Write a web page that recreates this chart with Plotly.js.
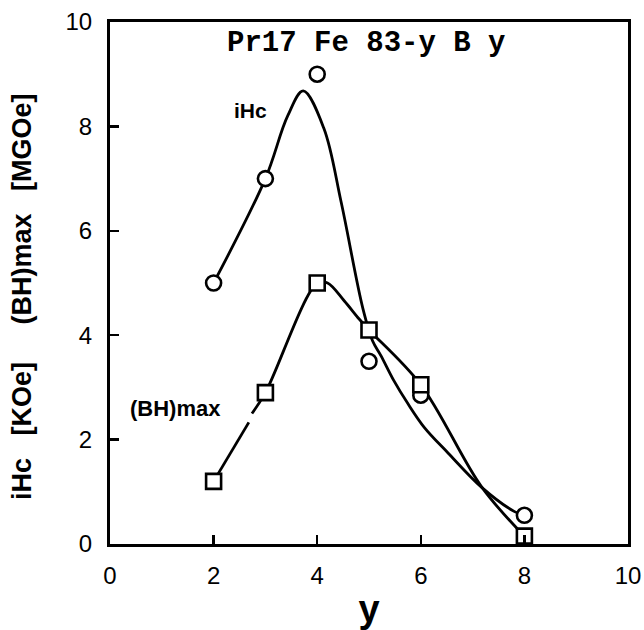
<!DOCTYPE html>
<html>
<head>
<meta charset="utf-8">
<script src="https://cdn.plot.ly/plotly-3.0.1.min.js"></script>
<style>html,body{margin:0;padding:0;background:#fff;}#chart{width:644px;height:630px;}</style>
</head>
<body>
<div id="chart"></div>
<script>
// measured points
const yVals = [2, 3, 4, 5, 6, 8];
const iHc = [5.0, 7.0, 9.0, 3.5, 2.85, 0.55];
const bhMax = [1.2, 2.9, 5.0, 4.1, 3.05, 0.15];

// hand-drawn fit curves
const iHcCurveX = [2, 3, 3.43, 3.73, 4.13, 4.46, 4.88, 5.07, 5.23, 5.48, 5.75, 6.07, 6.53, 7.17, 7.81, 8.0];
const iHcCurveY = [5, 7, 8.2, 8.68, 7.96, 6.56, 4.52, 3.89, 3.61, 3.13, 2.69, 2.23, 1.74, 1.09, 0.62, 0.55];
const bhCurveX = [2, 2.68, null, 2.74, 3, 4, 4.2, 4.52, 4.81, 5, 6, 7.17, 8];
const bhCurveY = [1.2, 2.33, null, 2.5, 2.9, 5.0, 5.0, 4.66, 4.31, 4.1, 3.05, 1.1, 0.15];

const xTicks = [0, 2, 4, 6, 8, 10];
const yTicks = [0, 2, 4, 6, 8, 10];

const lineStyle = {color: '#000', width: 2.8, shape: 'spline', smoothing: 1};

const traces = [
  {x: iHcCurveX, y: iHcCurveY, mode: 'lines', line: lineStyle, hoverinfo: 'skip', showlegend: false},
  {x: bhCurveX, y: bhCurveY, mode: 'lines', line: lineStyle, connectgaps: false, hoverinfo: 'skip', showlegend: false},
  {x: yVals, y: iHc, mode: 'markers', name: 'iHc',
   marker: {symbol: 'circle', size: 15, color: '#fff', line: {color: '#000', width: 2.6}}, showlegend: false},
  {x: yVals, y: bhMax, mode: 'markers', name: '(BH)max',
   marker: {symbol: 'square', size: 15, color: '#fff', line: {color: '#000', width: 2.6}}, showlegend: false}
];

const sans = 'Liberation Sans, Arial, sans-serif';
const tickFont = {family: sans, size: 24, color: '#000'};

const layout = {
  width: 644, height: 630,
  margin: {l: 110, r: 16, t: 22, b: 86},
  paper_bgcolor: '#fff', plot_bgcolor: '#fff',
  xaxis: {
    range: [0, 10], tickvals: xTicks, ticktext: xTicks.map(String),
    ticks: 'inside', ticklen: 9, tickwidth: 2.5, tickcolor: '#000',
    showline: true, linewidth: 3, linecolor: '#000', mirror: true,
    showgrid: false, zeroline: false, tickfont: tickFont, ticklabelstandoff: 8,
    title: {text: '<b>y</b>', font: {family: sans, size: 38, color: '#000'}, standoff: 10}
  },
  yaxis: {
    range: [0, 10], tickvals: yTicks, ticktext: yTicks.map(String),
    ticks: 'inside', ticklen: 9, tickwidth: 2.5, tickcolor: '#000',
    showline: true, linewidth: 3, linecolor: '#000', mirror: true,
    showgrid: false, zeroline: false, tickfont: tickFont, ticklabelstandoff: 10
  },
  annotations: [
    {text: '<b>Pr17 Fe 83-y B y</b>', xref: 'paper', yref: 'paper', x: 0.494, y: 0.958, xanchor: 'center', yanchor: 'middle',
     showarrow: false, font: {family: 'Liberation Mono, Courier New, monospace', size: 29, color: '#000'}},
    {text: '<b>iHc</b>', xref: 'x', yref: 'y', x: 2.72, y: 8.3, xanchor: 'center', yanchor: 'middle',
     showarrow: false, font: {family: sans, size: 21, color: '#000'}},
    {text: '<b>(BH)max</b>', xref: 'x', yref: 'y', x: 1.27, y: 2.6, xanchor: 'center', yanchor: 'middle',
     showarrow: false, font: {family: sans, size: 22, color: '#000'}},
    {text: '<b>iHc\u00a0\u00a0\u00a0[KOe]\u00a0\u00a0\u00a0\u00a0\u00a0(BH)max\u00a0\u00a0\u00a0[MGOe]</b>', xref: 'paper', yref: 'paper',
     x: -0.17, y: 0.475, xanchor: 'center', yanchor: 'middle', textangle: -90,
     showarrow: false, font: {family: sans, size: 27, color: '#000'}}
  ]
};

Plotly.newPlot('chart', traces, layout, {displayModeBar: false, staticPlot: true});
</script>
</body>
</html>
